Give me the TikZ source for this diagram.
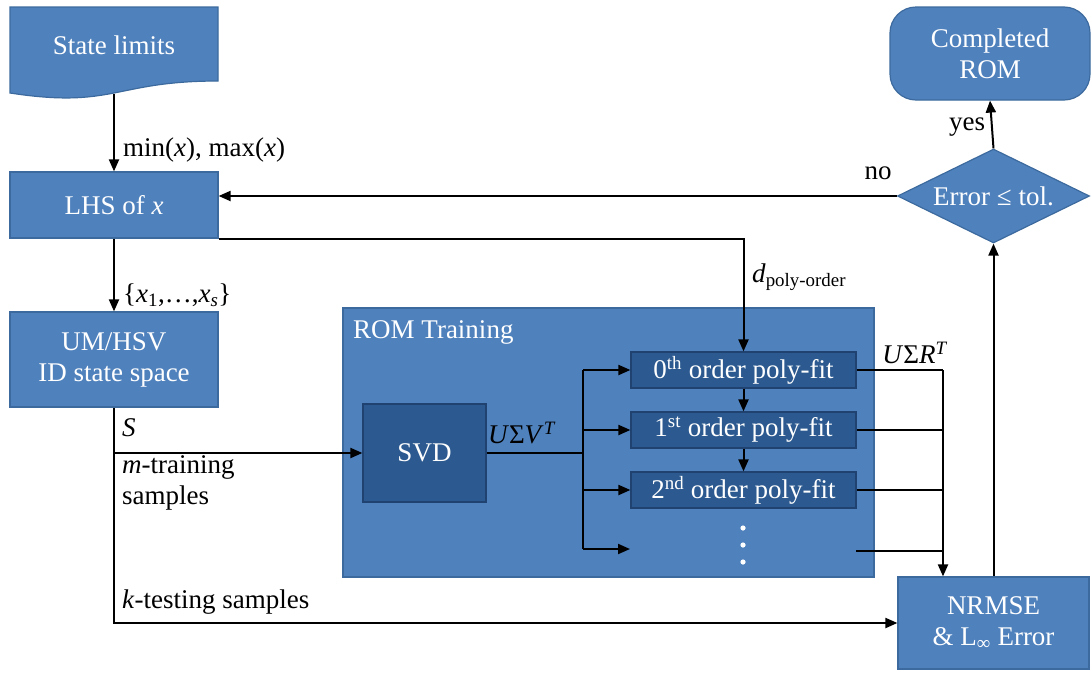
\documentclass[tikz,border=0pt]{standalone}
\usepackage{fontspec}
\setmainfont{LiberationSerif}[Extension=.ttf, UprightFont=*-Regular, ItalicFont=*-Italic, BoldFont=*-Bold, BoldItalicFont=*-BoldItalic]
\usetikzlibrary{shapes.geometric,arrows.meta,calc}
\definecolor{boxblue}{HTML}{4F81BD}
\definecolor{boxedge}{HTML}{3C6A9E}
\definecolor{deepblue}{HTML}{2C5A90}
\definecolor{deepedge}{HTML}{1F4270}
\begin{document}
\begin{tikzpicture}[x=1pt,y=-1pt,
  font=\rmfamily\fontsize{27}{31}\selectfont,
  blk/.style={draw=boxedge, fill=boxblue, line width=1.2pt, text=white, align=center, inner sep=0pt},
  dark/.style={draw=deepedge, fill=deepblue, line width=1.2pt, text=white, align=center, inner sep=0pt},
  arr/.style={-{Triangle[length=12pt,width=10pt]}, line width=2pt},
  wire/.style={line width=2pt},
  lbl/.style={text=black, inner sep=0pt}]
\useasboundingbox (0,0) rectangle (1092,672);

% document-shaped input block
\filldraw[blk] (10,7) -- (218,7) -- (218,81) .. controls (114,81) and (114,109) .. (10,93) -- cycle;
\node[text=white] (state) at (114,45) {State limits};
\coordinate (statebot) at (114,94);

% left column
\node[blk, minimum width=208pt, minimum height=66pt] (lhs) at (114,205) {LHS of \textit{x}};
\node[blk, minimum width=208pt, minimum height=95pt] (um) at (114,359.5) {UM/HSV\\ID state space};

% training group
\node[blk, minimum width=531pt, minimum height=269pt] (rom) at (608.5,442.5) {};
\node[text=white, anchor=west, inner sep=0pt] (romlbl) at (353,332) {ROM Training};
\node[dark, minimum width=123pt, minimum height=98pt] (svd) at (424.5,453) {SVD};
\node[dark, minimum width=225pt, minimum height=36pt] (poly0) at (743.5,370) {0\textsuperscript{th} order poly-fit};
\node[dark, minimum width=225pt, minimum height=36pt] (poly1) at (743.5,430) {1\textsuperscript{st} order poly-fit};
\node[dark, minimum width=225pt, minimum height=36pt] (poly2) at (743.5,490) {2\textsuperscript{nd} order poly-fit};
\foreach \yy in {528,545,562} \fill[white] (743,\yy) circle (2.6pt);

% error evaluation and decision
\node[blk, minimum width=191pt, minimum height=92pt] (nrmse) at (993.5,623) {NRMSE\\\& L\textsubscript{∞} Error};
\node[blk, diamond, shape aspect=2, minimum width=192pt, minimum height=94pt] (dec) at (993.5,196) {Error ≤ tol.};
\node[blk, rounded corners=26pt, minimum width=200pt, minimum height=93pt] (done) at (990,53.5) {Completed\\ROM};

% connectors
\draw[arr] (statebot) -- (lhs.north);
\node[lbl, anchor=west] (mm) at (123,150) {min(\textit{x}), max(\textit{x})};

\draw[arr] (lhs.south) -- (um.north);
\node[lbl, anchor=west] (xs) at (123,295) {\{\textit{x}\textsubscript{1},…,\textit{x}\textsubscript{\textit{s}}\}};

\draw[arr] (dec.west) -- (dec.west -| lhs.east);
\node[lbl] (no) at (878,173) {no};

\draw[arr] (lhs.south east) -| (poly0.north);
\node[lbl, anchor=west] (dpo) at (752,277) {\textit{d}\textsubscript{poly-order}};

\coordinate (split) at (114,453);
\draw[arr] (um.south) |- (nrmse.west);
\draw[arr] (split) -- (svd.west);
\node[lbl, anchor=west] (slbl) at (122,428) {\textit{S}};
\node[lbl, anchor=north west, align=left] (mtr) at (122,455) {\textit{m}-training\\samples};
\node[lbl, anchor=west] (ktr) at (122,602) {\textit{k}-testing samples};

\coordinate (bus) at (583,453);
\coordinate (dotsin) at (630,549);
\draw[wire] (svd.east) -- (bus);
\draw[wire] (bus |- poly0.west) -- (bus |- dotsin);
\draw[arr] (bus |- poly0.west) -- (poly0.west);
\draw[arr] (bus |- poly1.west) -- (poly1.west);
\draw[arr] (bus |- poly2.west) -- (poly2.west);
\draw[arr] (bus |- dotsin) -- (dotsin);
\node[lbl] (usv) at (522,433) {\textit{U}Σ\textit{V}\textsuperscript{\textit{T}}};

\draw[arr] (poly0.south) -- (poly1.north);
\draw[arr] (poly1.south) -- (poly2.north);

\coordinate (col) at (943,370);
\coordinate (dotsout) at (856,551);
\draw[wire] (poly0.east) -- (col);
\draw[arr] (col) -- (col |- nrmse.north);
\draw[wire] (poly1.east) -- (poly1.east -| col);
\draw[wire] (poly2.east) -- (poly2.east -| col);
\draw[wire] (dotsout) -- (dotsout -| col);
\node[lbl] (usr) at (915,353) {\textit{U}Σ\textit{R}\textsuperscript{\textit{T}}};

\draw[arr] (nrmse.north) -- (dec.south);
\draw[arr] (dec.north) -- (done.south);
\node[lbl] (yes) at (967,127) {yes};
\end{tikzpicture}
\end{document}
